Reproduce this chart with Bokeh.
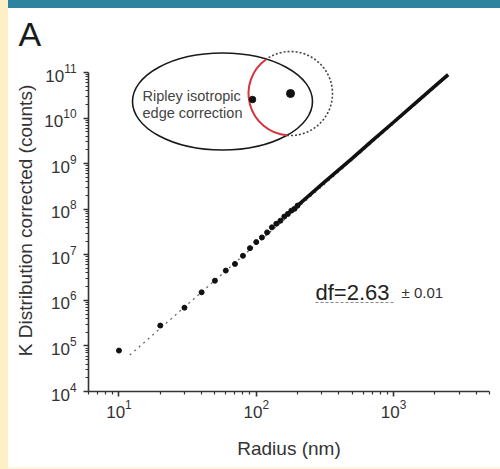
import math
from bokeh.plotting import figure
from bokeh.models import Label, FixedTicker, Div, Range1d
from bokeh.layouts import row, column
from bokeh.embed import file_html
from bokeh.resources import INLINE

# ---------------- data ----------------
radius_dots = [10, 20, 30, 40, 50, 60, 70, 80, 90, 100,
               110, 120, 130, 140, 150, 160, 170, 180, 190, 200]
k_dots = [7.9e4, 2.8e5, 6.9e5, 1.5e6, 2.7e6, 4.5e6, 6.3e6, 9.5e6, 1.4e7, 1.9e7,
          2.4e7, 3.1e7, 4.0e7, 4.8e7, 5.6e7, 6.9e7, 7.9e7, 9.3e7, 1.02e8, 1.2e8]
radius_dense = [200, 300, 500, 700, 1000, 1500, 2000, 2500]
k_dense = [1.2e8, 3.5e8, 1.3e9, 3.2e9, 8.1e9, 2.35e10, 5.0e10, 9.0e10]
fit_radius = [12, 2500]
fit_k = [6.3e4, 8.5e10]
df_text = "df=2.63"
df_err = "± 0.01"
x_major = [10, 100, 1000]
y_major = [1e4, 1e5, 1e6, 1e7, 1e8, 1e9, 1e10, 1e11]
x_title = "Radius (nm)"
y_title = "K Distribution corrected (counts)"
panel_letter = "A"
inset_lines = ["Ripley isotropic", "edge correction"]

# ---------------- geometry (page pixels) ----------------
PAGE_W, PAGE_H = 500, 469
OFF_X, OFF_Y = 8, 8          # yellow strip / teal bar
FL, FR = 88, 489             # frame left/right (page px)
FT, FB = 49, 391             # frame top/bottom (page px)
X0, X1 = 6, 5000
Y0 = 1e4
PXD_X = (FR - FL) / math.log10(X1 / X0)
PXD_Y = (391 - 72) / 7.0
Y1 = 10 ** (4 + (FB - FT) / PXD_Y)


def px2x(px):
    return 10 ** (math.log10(X0) + (px - FL) / PXD_X)


def px2y(py):
    return 10 ** (math.log10(Y0) + (FB - py) / PXD_Y)


FIG_W = PAGE_W - OFF_X
FIG_H = 467 - OFF_Y

p = figure(width=FIG_W, height=FIG_H, x_axis_type="log", y_axis_type="log",
           x_range=Range1d(X0, X1), y_range=Range1d(Y0, Y1),
           output_backend="svg", toolbar_location=None,
           min_border_left=FL - OFF_X, min_border_right=FIG_W - (FR - OFF_X),
           min_border_top=FT - OFF_Y, min_border_bottom=FIG_H - (FB - OFF_Y))
p.outline_line_color = None
p.grid.visible = False
p.background_fill_color = "white"
p.border_fill_color = "white"

FONT = "Liberation Sans"
AX_COLOR = "#333333"
TXT = "#333333"

# panel letter as the title
p.title.text = panel_letter
p.title.text_font = FONT
p.title.text_font_size = "34px"
p.title.text_font_style = "normal"
p.title.text_color = "#1a1a1a"
p.title.align = "left"
p.title.offset = 18 - FL
p.title.standoff = -6

x_minor = [d * m for d in [1, 10, 100, 1000] for m in range(2, 10)
           if X0 <= d * m <= X1]
y_minor = [m * 10 ** e for e in range(4, 11) for m in range(2, 10)]

for ax, ticks, minor, bounds in [(p.xaxis[0], x_major, x_minor, (X0, X1)),
                                 (p.yaxis[0], y_major, y_minor, (1e4, 1e11))]:
    ax.ticker = FixedTicker(ticks=ticks, minor_ticks=minor)
    ax.bounds = bounds
    ax.axis_line_color = AX_COLOR
    ax.axis_line_width = 1.6
    ax.major_tick_line_color = AX_COLOR
    ax.minor_tick_line_color = AX_COLOR
    ax.major_tick_line_width = 1.6
    ax.minor_tick_line_width = 1.2
    ax.major_tick_out = 5
    ax.major_tick_in = 0
    ax.minor_tick_out = 3
    ax.minor_tick_in = 0
    ax.major_label_text_font = FONT
    ax.major_label_text_font_size = "17px"
    ax.major_label_text_color = TXT
    ax.axis_label_text_font = FONT
    ax.axis_label_text_font_size = "19px"
    ax.axis_label_text_font_style = "normal"
    ax.axis_label_text_color = TXT

p.xaxis.axis_label = x_title
p.yaxis.axis_label = y_title
p.xaxis.major_label_standoff = 3
p.yaxis.major_label_standoff = 7
p.xaxis.axis_label_standoff = 17
p.yaxis.axis_label_standoff = 5

# ---------------- data marks ----------------
p.line(fit_radius, fit_k, line_color="#666666", line_width=1.3, line_dash="2 4")
p.line(radius_dense, k_dense, line_color="#111111", line_width=3.6)
p.scatter(radius_dots, k_dots, size=5, color="#111111")


# ---------------- labels inside the frame ----------------
def add_label(px, py, text, size, align="left", color=TXT):
    p.add_layout(Label(x=px2x(px), y=px2y(py), text=text, text_align=align,
                       text_baseline="alphabetic", text_font=FONT,
                       text_font_size=f"{size}px", text_color=color))


add_label(315, 292, df_text, 22, "left", color="#222222")
add_label(401, 292, df_err, 15, "left", color="#333333")
p.line([px2x(315), px2x(395)], [px2y(302), px2y(302)], line_color="#888888",
       line_width=1, line_dash="3 2")

# ---------------- inset drawing ----------------
ECX, ECY, EW, EH = 222, 101, 180, 97
CCX, CCY, CR = 290, 93, 42


def inside(theta):
    x = CCX + CR * math.cos(theta)
    y = CCY - CR * math.sin(theta)
    return ((x - ECX) / (EW / 2)) ** 2 + ((y - ECY) / (EH / 2)) ** 2 < 1


angs = [math.radians(a * 0.25) for a in range(0, 1440)]
ins = [inside(a) for a in angs]
start = end = None
for i in range(len(angs)):
    if ins[i] and not ins[i - 1]:
        start = angs[i]
    if not ins[i] and ins[i - 1]:
        end = angs[i]

p.ellipse(x=[px2x(ECX)], y=[px2y(ECY)], width=EW, height=EH,
          width_units="screen", height_units="screen",
          fill_color="white", line_color="#1a1a1a", line_width=1.6)
p.arc(x=[px2x(CCX)], y=[px2y(CCY)], radius=CR, radius_units="screen",
      start_angle=end, end_angle=start + 2 * math.pi, direction="anticlock",
      line_color="#444444", line_width=1.6, line_dash="2 2")
p.arc(x=[px2x(CCX)], y=[px2y(CCY)], radius=CR, radius_units="screen",
      start_angle=start, end_angle=end, direction="anticlock",
      line_color="#d8323c", line_width=2)
p.scatter([px2x(CCX)], [px2y(CCY)], size=8, color="#111111")
p.scatter([px2x(252)], [px2y(99)], size=6.5, color="#111111")

add_label(142, 95.5, inset_lines[0], 14.5, "left", color="#444444")
add_label(142, 112, inset_lines[1], 14.5, "left", color="#444444")

# ---------------- page decoration ----------------
yellow = Div(text="", width=OFF_X, height=PAGE_H, margin=0,
             styles={"background-color": "#FEF0C6"})
teal = Div(text="", width=FIG_W, height=OFF_Y, margin=0,
           styles={"background-color": "#2E849E"})
cream = Div(text="", width=FIG_W, height=PAGE_H - 467, margin=0,
            styles={"background-color": "#FFF6E0"})
p.margin = 0
layout = row(yellow, column(teal, p, cream, spacing=0), spacing=0)

open("out.html", "w").write(file_html(layout, INLINE))
